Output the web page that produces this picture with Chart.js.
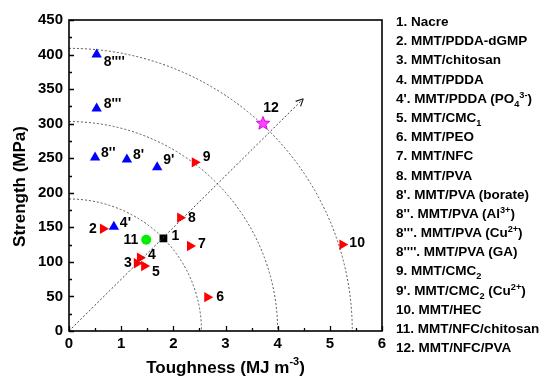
<!DOCTYPE html>
<html>
<head>
<meta charset="utf-8">
<script src="https://cdn.jsdelivr.net/npm/chart.js@4"></script>
<style>
  body { margin: 0; background: #fff; }
  #wrap { position: relative; width: 546px; height: 378px; }
  #legend { position: absolute; left: 396px; top: 12px; font: bold 13.5px Arial, "Liberation Sans", sans-serif; color: #000; }
  #legend div { height: 19.2px; line-height: 19.2px; white-space: nowrap; }
  #legend sub, #legend sup { font-size: 68%; line-height: 0; }
</style>
</head>
<body>
<div id="wrap">
  <canvas id="c" width="546" height="378"></canvas>
  <div id="legend"></div>
</div>
<script>
// Materials: toughness (MJ m^-3) vs strength (MPa)
const nacreLabels = ['1'];
const nacreToughness = [1.81];
const nacreStrength = [134];

const redLabels = ['2', '3', '4', '5', '6', '7', '8', '9', '10'];
const redToughness = [0.65, 1.30, 1.36, 1.44, 2.65, 2.32, 2.13, 2.41, 5.24];
const redStrength = [148, 98, 106, 94, 49, 123, 164, 244, 125];

const blueLabels = ["4'", "8'", "8''", "8'''", "8''''", "9'"];
const blueToughness = [0.86, 1.11, 0.50, 0.53, 0.53, 1.69];
const blueStrength = [151, 248, 251, 322, 400, 237];

const greenLabels = ['11'];
const greenToughness = [1.48];
const greenStrength = [132];

const starLabels = ['12'];
const starToughness = [3.72];
const starStrength = [301];

// Guide curves: axis intercepts of each quarter arc
const arcToughness = [2.54, 4.0, 5.43];
const arcStrength = [191, 303, 409];

// Trend arrow from origin
const arrowToughness = [0, 4.49];
const arrowStrength = [0, 336];

const xTickValues = [0, 1, 2, 3, 4, 5, 6];
const yTickValues = [0, 50, 100, 150, 200, 250, 300, 350, 400, 450];

const legendItems = [
  '1. Nacre',
  '2. MMT/PDDA-dGMP',
  '3. MMT/chitosan',
  '4. MMT/PDDA',
  "4'. MMT/PDDA (PO<sub>4</sub><sup>3-</sup>)",
  '5. MMT/CMC<sub>1</sub>',
  '6. MMT/PEO',
  '7. MMT/NFC',
  '8. MMT/PVA',
  "8'. MMT/PVA (borate)",
  "8''. MMT/PVA (Al<sup>3+</sup>)",
  "8'''. MMT/PVA (Cu<sup>2+</sup>)",
  "8''''. MMT/PVA (GA)",
  '9. MMT/CMC<sub>2</sub>',
  "9'. MMT/CMC<sub>2</sub> (Cu<sup>2+</sup>)",
  '10. MMT/HEC',
  '11. MMT/NFC/chitosan',
  '12. MMT/NFC/PVA'
];

// label placement around each marker: [dx, dy, align]
const labelOffsets = {
  '1': [8, -2, 'left'], '2': [-6, 0, 'right'], '3': [-5, 0, 'right'],
  '4': [8, -3, 'left'], "4'": [6, -4, 'left'], '5': [8, 6, 'left'],
  '6': [9, 0, 'left'], '7': [8, -2, 'left'], '8': [8, 0, 'left'],
  '9': [8, -5, 'left'], '10': [7, -1, 'left'], '11': [-8, 0, 'right'],
  '12': [8, -15, 'center'], "8'": [6, -4, 'left'], "8''": [6, -4, 'left'],
  "8'''": [7, -4, 'left'], "8''''": [7, 8, 'left'], "9'": [6, -7, 'left']
};

const FONT = 'Arial, "Liberation Sans", sans-serif';

document.getElementById('legend').innerHTML =
  legendItems.map(t => '<div>' + t + '</div>').join('');

function pts(xs, ys) { return xs.map((x, i) => ({ x: x, y: ys[i] })); }

// filled five-point star marker
function makeStar() {
  const c = document.createElement('canvas');
  c.width = 16; c.height = 16;
  const g = c.getContext('2d');
  g.beginPath();
  for (let i = 0; i < 10; i++) {
    const r = i % 2 === 0 ? 7 : 3;
    const a = -Math.PI / 2 + i * Math.PI / 5;
    const px = 8 + r * Math.cos(a), py = 8.5 + r * Math.sin(a);
    if (i === 0) g.moveTo(px, py); else g.lineTo(px, py);
  }
  g.closePath();
  g.fillStyle = '#ff44ff';
  g.fill();
  g.strokeStyle = '#dd00dd';
  g.lineWidth = 1;
  g.stroke();
  return c;
}

const annotate = {
  id: 'annotate',
  beforeDatasetsDraw(chart) {
    const { ctx, chartArea: a, scales: { x, y } } = chart;
    const cx = x.getPixelForValue(0), cy = y.getPixelForValue(0);
    ctx.save();
    ctx.beginPath();
    ctx.rect(a.left, a.top, a.right - a.left, a.bottom - a.top);
    ctx.clip();
    ctx.strokeStyle = '#555';
    ctx.lineWidth = 1;
    ctx.setLineDash([2, 2]);
    arcToughness.forEach((t, i) => {
      const rx = x.getPixelForValue(t) - cx;
      const ry = cy - y.getPixelForValue(arcStrength[i]);
      ctx.beginPath();
      ctx.ellipse(cx, cy, rx, ry, 0, -Math.PI / 2, 0);
      ctx.stroke();
    });
    ctx.restore();
    // arrow head
    const x0 = x.getPixelForValue(arrowToughness[0]), y0 = y.getPixelForValue(arrowStrength[0]);
    const x1 = x.getPixelForValue(arrowToughness[1]), y1 = y.getPixelForValue(arrowStrength[1]);
    const ang = Math.atan2(y1 - y0, x1 - x0);
    ctx.save();
    ctx.strokeStyle = '#222';
    ctx.lineWidth = 1.2;
    ctx.beginPath();
    [0.45, -0.45].forEach(d => {
      ctx.moveTo(x1, y1);
      ctx.lineTo(x1 - 8 * Math.cos(ang + d), y1 - 8 * Math.sin(ang + d));
    });
    ctx.stroke();
    ctx.restore();
  },
  afterDatasetsDraw(chart) {
    const { ctx, scales: { x, y } } = chart;
    ctx.save();
    ctx.fillStyle = '#000';
    ctx.font = 'bold 14px ' + FONT;
    ctx.textBaseline = 'middle';
    chart.data.datasets.forEach(ds => {
      if (!ds.pointLabels) return;
      ds.data.forEach((p, i) => {
        const lab = ds.pointLabels[i];
        const o = labelOffsets[lab] || [8, 0, 'left'];
        ctx.textAlign = o[2];
        ctx.fillText(lab, x.getPixelForValue(p.x) + o[0], y.getPixelForValue(p.y) + o[1]);
      });
    });
    ctx.restore();
  },
  afterDraw(chart) {
    const { ctx, chartArea: a, scales: { x, y } } = chart;
    ctx.save();
    ctx.strokeStyle = '#000';
    ctx.lineWidth = 1.6;
    ctx.setLineDash([]);
    ctx.strokeRect(a.left, a.top, a.right - a.left, a.bottom - a.top);
    // inward major and minor ticks
    ctx.lineWidth = 1.3;
    ctx.beginPath();
    for (let v = 0; v <= 6; v += 0.5) {
      const px = Math.round(x.getPixelForValue(v)) + 0.5;
      const len = Number.isInteger(v) ? 5 : 3;
      ctx.moveTo(px, a.bottom); ctx.lineTo(px, a.bottom - len);
    }
    for (let v = 0; v <= 450; v += 25) {
      const py = Math.round(y.getPixelForValue(v)) + 0.5;
      const len = v % 50 === 0 ? 5 : 3;
      ctx.moveTo(a.left, py); ctx.lineTo(a.left + len, py);
    }
    ctx.stroke();
    // axis titles
    ctx.fillStyle = '#000';
    ctx.textBaseline = 'alphabetic';
    const main = 'Toughness (MJ m', sup = '-3', close = ')';
    ctx.font = 'bold 17px ' + FONT;
    const w1 = ctx.measureText(main).width, w3 = ctx.measureText(close).width;
    ctx.font = 'bold 11px ' + FONT;
    const w2 = ctx.measureText(sup).width;
    let sx = (a.left + a.right) / 2 - (w1 + w2 + w3) / 2;
    const by = 373;
    ctx.textAlign = 'left';
    ctx.font = 'bold 17px ' + FONT;
    ctx.fillText(main, sx, by);
    ctx.font = 'bold 11px ' + FONT;
    ctx.fillText(sup, sx + w1, by - 8);
    ctx.font = 'bold 17px ' + FONT;
    ctx.fillText(close, sx + w1 + w2, by);
    ctx.translate(20, (a.top + a.bottom) / 2 + 11);
    ctx.rotate(-Math.PI / 2);
    ctx.textAlign = 'center';
    ctx.textBaseline = 'middle';
    ctx.fillText('Strength (MPa)', 0, 0);
    ctx.restore();
  }
};

new Chart(document.getElementById('c'), {
  type: 'scatter',
  data: {
    datasets: [
      {
        type: 'line', data: pts(arrowToughness, arrowStrength),
        borderColor: '#444', borderWidth: 1, borderDash: [2, 2],
        pointRadius: 0, fill: false
      },
      {
        data: pts(redToughness, redStrength), pointLabels: redLabels,
        pointStyle: 'triangle', rotation: 90, radius: 6,
        backgroundColor: '#ff0000', borderColor: '#ff0000', borderWidth: 0
      },
      {
        data: pts(blueToughness, blueStrength), pointLabels: blueLabels,
        pointStyle: 'triangle', radius: 6,
        backgroundColor: '#0000ff', borderColor: '#0000ff', borderWidth: 0
      },
      {
        data: pts(greenToughness, greenStrength), pointLabels: greenLabels,
        pointStyle: 'circle', radius: 5,
        backgroundColor: '#00ee00', borderColor: '#00ee00', borderWidth: 0
      },
      {
        data: pts(nacreToughness, nacreStrength), pointLabels: nacreLabels,
        pointStyle: 'rect', radius: 5.5,
        backgroundColor: '#000', borderColor: '#000', borderWidth: 0
      },
      {
        data: pts(starToughness, starStrength), pointLabels: starLabels,
        pointStyle: makeStar(), radius: 8
      }
    ]
  },
  options: {
    responsive: false,
    animation: false,
    devicePixelRatio: 1,
    layout: { padding: { top: 20, right: 164, left: 0, bottom: 0 } },
    plugins: { legend: { display: false }, tooltip: { enabled: false } },
    scales: {
      x: {
        type: 'linear', min: 0, max: 6,
        afterFit(s) { s.height = 47; },
        afterBuildTicks(s) { s.ticks = xTickValues.map(v => ({ value: v })); },
        grid: { display: false, drawTicks: false },
        border: { display: false },
        ticks: { padding: 4, color: '#000', font: { family: FONT, size: 15, weight: 'bold' } }
      },
      y: {
        type: 'linear', min: 0, max: 450,
        afterFit(s) { s.width = 69; },
        afterBuildTicks(s) { s.ticks = yTickValues.map(v => ({ value: v })); },
        grid: { display: false, drawTicks: false },
        border: { display: false },
        ticks: { padding: 6, color: '#000', font: { family: FONT, size: 15, weight: 'bold' } }
      }
    }
  },
  plugins: [annotate]
});
</script>
</body>
</html>
